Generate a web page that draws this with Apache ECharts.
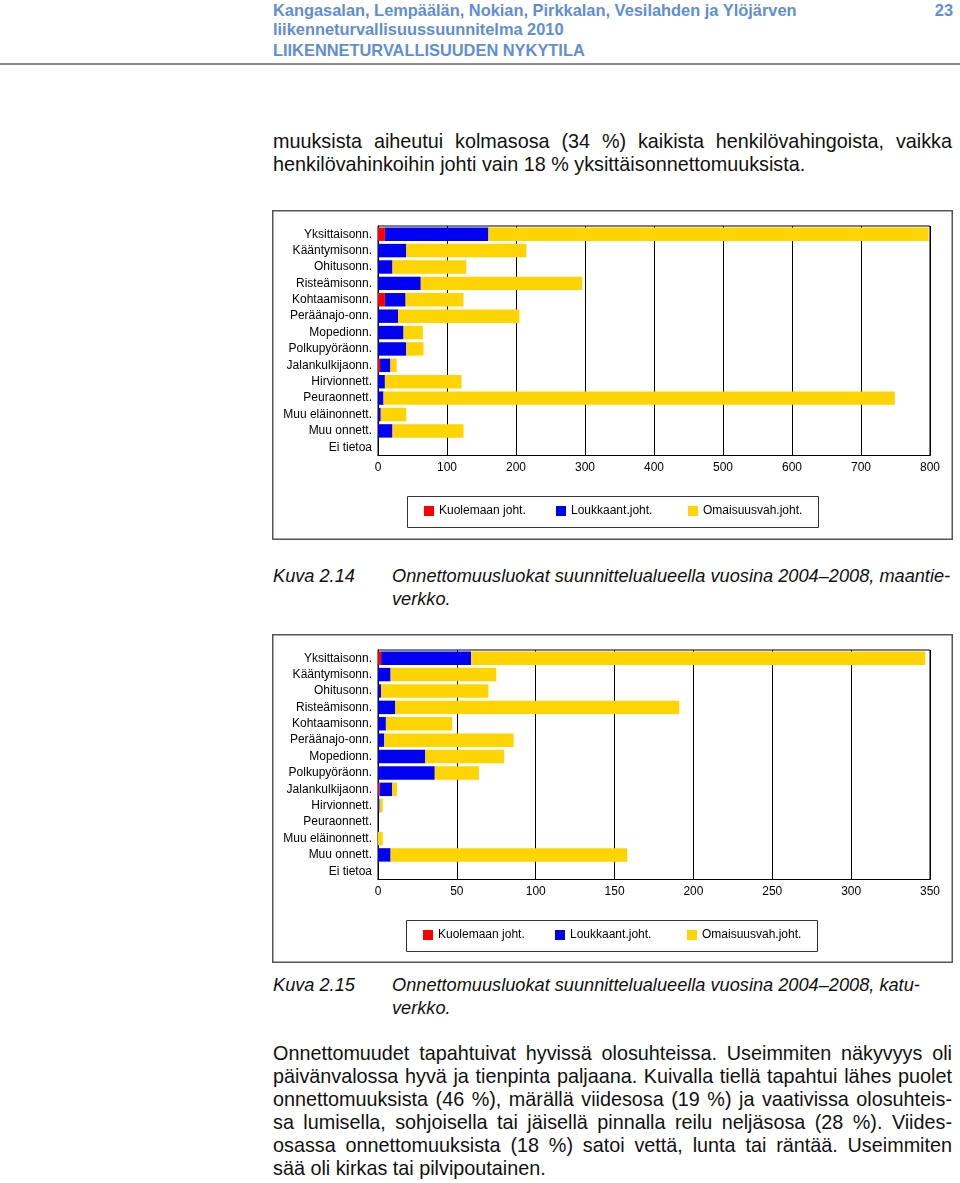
<!DOCTYPE html>
<html>
<head>
<meta charset="utf-8">
<script src="https://cdn.jsdelivr.net/npm/echarts@6/dist/echarts.min.js"></script>
<style>
  html, body { margin: 0; padding: 0; background: #fff; }
  body { width: 960px; height: 1183px; position: relative; overflow: hidden; font-family: "Liberation Sans", Arial, Helvetica, sans-serif; color: #111; }
  .hdr { position: absolute; left: 273px; font-size: 16.4px; font-weight: bold; color: #5f8ed8; line-height: 20px; white-space: nowrap; }
  .pg { position: absolute; right: 7px; top: 0px; font-size: 16.4px; font-weight: bold; color: #5f8ed8; line-height: 20px; }
  .rule { position: absolute; left: 0; top: 63px; width: 960px; height: 2px; background: #8c8c8c; }
  .ln { position: absolute; left: 273px; width: 679px; font-size: 19.8px; line-height: 23px; white-space: nowrap; }
  .j { text-align: justify; text-align-last: justify; white-space: normal; height: 23px; overflow: visible; }
  .cap { position: absolute; font-size: 18.2px; line-height: 23px; font-style: italic; white-space: nowrap; }
  .chart { position: absolute; left: 272px; width: 681px; }
</style>
</head>
<body>
<div class="hdr" style="top:0px">Kangasalan, Lempäälän, Nokian, Pirkkalan, Vesilahden ja Ylöjärven</div>
<div class="pg">23</div>
<div class="hdr" style="top:19px">liikenneturvallisuussuunnitelma 2010</div>
<div class="hdr" style="top:40px">LIIKENNETURVALLISUUDEN NYKYTILA</div>
<div class="rule"></div>

<div class="ln j" style="top:130px">muuksista aiheutui kolmasosa (34 %) kaikista henkilövahingoista, vaikka</div>
<div class="ln" style="top:153px">henkilövahinkoihin johti vain 18 % yksittäisonnettomuuksista.</div>

<div id="c1" class="chart" style="top:210px;height:330px"></div>

<div class="cap" style="left:273px;top:565px">Kuva 2.14</div>
<div class="cap" style="left:392px;top:565px">Onnettomuusluokat suunnittelualueella vuosina 2004–2008, maantie-</div>
<div class="cap" style="left:392px;top:588px">verkko.</div>

<div id="c2" class="chart" style="top:634px;height:329px"></div>

<div class="cap" style="left:273px;top:974px">Kuva 2.15</div>
<div class="cap" style="left:392px;top:974px">Onnettomuusluokat suunnittelualueella vuosina 2004–2008, katu-</div>
<div class="cap" style="left:392px;top:997px">verkko.</div>

<div class="ln j" style="top:1042px">Onnettomuudet tapahtuivat hyvissä olosuhteissa. Useimmiten näkyvyys oli</div>
<div class="ln j" style="top:1065px">päivänvalossa hyvä ja tienpinta paljaana. Kuivalla tiellä tapahtui lähes puolet</div>
<div class="ln j" style="top:1088px">onnettomuuksista (46 %), märällä viidesosa (19 %) ja vaativissa olosuhteis-</div>
<div class="ln j" style="top:1111px">sa lumisella, sohjoisella tai jäisellä pinnalla reilu neljäsosa (28 %). Viides-</div>
<div class="ln j" style="top:1134px">osassa onnettomuuksista (18 %) satoi vettä, lunta tai räntää. Useimmiten</div>
<div class="ln" style="top:1157px">sää oli kirkas tai pilvipoutainen.</div>

<script>
const categories = ['Yksittaisonn.', 'Kääntymisonn.', 'Ohitusonn.', 'Risteämisonn.', 'Kohtaamisonn.', 'Peräänajo-onn.', 'Mopedionn.', 'Polkupyöräonn.', 'Jalankulkijaonn.', 'Hirvionnett.', 'Peuraonnett.', 'Muu eläinonnett.', 'Muu onnett.', 'Ei tietoa'];
const seriesNames = ['Kuolemaan joht.', 'Loukkaant.joht.', 'Omaisuusvah.joht.'];

// Kuva 2.14 maantieverkko
const roadDead     = [10, 0, 0, 0, 10, 0, 0, 0, 3, 0, 0, 0, 0, 0];
const roadInjured  = [150, 41, 21, 62, 30, 29, 37, 41, 15, 10, 8, 4, 21, 0];
const roadProperty = [638, 174, 107, 234, 84, 176, 28, 25, 9, 111, 741, 37, 103, 0];
const roadTicks = { max: 800, interval: 100 };

// Kuva 2.15 katuverkko
const streetDead     = [2, 0, 0, 0, 0, 0, 0, 0, 1, 0, 0, 0, 0, 0];
const streetInjured  = [57, 8, 2, 11, 5, 4, 30, 36, 8, 1, 0, 0, 8, 0];
const streetProperty = [288, 67, 68, 180, 42, 82, 50, 28, 3, 2, 0, 3, 150, 0];
const streetTicks = { max: 350, interval: 50 };

const colors = ['#ff0000', '#0000f2', '#ffd400'];
const FONT = '"Liberation Sans", Arial, sans-serif';

function makeOption(dead, injured, property, ticks, W, H, dx) {
  const vals = [dead, injured, property];
  const itemLefts = [152, 284, 416];
  const legends = seriesNames.map((name, i) => ({
    left: itemLefts[i] + dx, top: 295, orient: 'horizontal',
    itemWidth: 10, itemHeight: 10, itemGap: 0, icon: 'rect',
    padding: 0, selectedMode: false,
    textStyle: { fontSize: 12, color: '#000', fontFamily: FONT },
    data: [name]
  }));
  return {
    animation: false,
    textStyle: { fontFamily: FONT },
    color: colors,
    graphic: [{
      type: 'rect', silent: true,
      shape: { x: 0.75, y: 0.75, width: W - 1.5, height: H - 1.5 },
      style: { fill: null, stroke: '#555', lineWidth: 1.5 }
    }, {
      type: 'rect', silent: true, z: -1,
      shape: { x: 135.5 + dx, y: 286.5, width: 411, height: 31 },
      style: { fill: '#fff', stroke: '#333', lineWidth: 1 }
    }],
    grid: { left: 106, top: 16, width: 552, height: 229.5, show: true, borderColor: '#000', borderWidth: 1, backgroundColor: '#fff' },
    xAxis: {
      type: 'value', min: 0, max: ticks.max, interval: ticks.interval,
      axisLine: { show: true, lineStyle: { color: '#000', width: 1 } },
      axisTick: { show: false },
      axisLabel: { color: '#000', fontSize: 12, margin: 6, fontFamily: FONT },
      splitLine: { show: true, lineStyle: { color: '#000', width: 1 } }
    },
    yAxis: {
      type: 'category', data: categories, inverse: true,
      axisLine: { show: true, lineStyle: { color: '#000', width: 1 } },
      axisTick: { show: false },
      axisLabel: { color: '#000', fontSize: 12, margin: 6, fontFamily: FONT }
    },
    legend: legends,
    series: seriesNames.map((name, i) => ({
      name, type: 'bar', stack: 'total', barCategoryGap: '18%',
      data: vals[i], itemStyle: { color: colors[i] },
      emphasis: { disabled: true }
    }))
  };
}

const c1 = echarts.init(document.getElementById('c1'), null, { renderer: 'canvas' });
c1.setOption(makeOption(roadDead, roadInjured, roadProperty, roadTicks, 681, 330, 0));
const c2 = echarts.init(document.getElementById('c2'), null, { renderer: 'canvas' });
c2.setOption(makeOption(streetDead, streetInjured, streetProperty, streetTicks, 681, 329, -1));
</script>
</body>
</html>
